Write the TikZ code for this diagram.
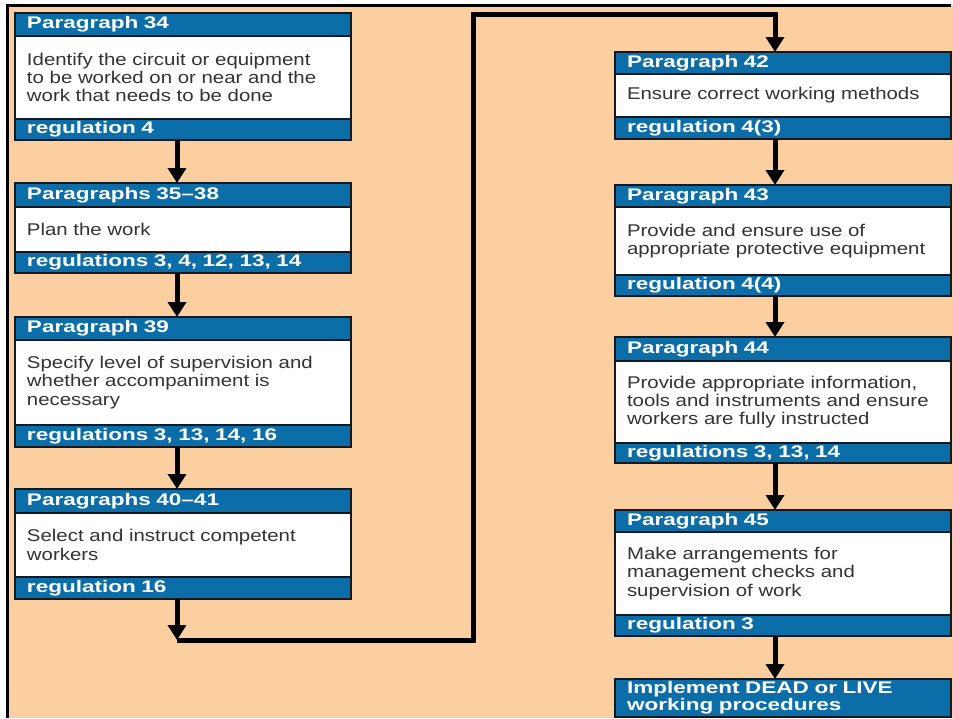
\documentclass[tikz,border=0pt]{standalone}
\usepackage{fontspec}
\setmainfont{Liberation Sans}
\newfontfamily\hdfont[FakeStretch=1.34]{Liberation Sans}
\newfontfamily\bdfont[FakeStretch=1.2]{Liberation Sans}
\usetikzlibrary{arrows.meta,fit}
\definecolor{peach}{HTML}{FCCFA0}
\definecolor{hblue}{HTML}{0C6EA8}
\definecolor{bodytext}{HTML}{333333}
\definecolor{edge}{HTML}{151820}
\tikzset{
  part/.style={rectangle, inner xsep=12pt, inner ysep=0pt, outer sep=0pt,
    text width=312pt, align=left, minimum width=336pt},
  hdr/.style={part, fill=hblue, text=white,
    font=\hdfont\bfseries\fontsize{16.8}{17}\selectfont},
  bdy/.style={part, fill=white, text=bodytext,
    font=\bdfont\fontsize{17}{18.3}\selectfont},
  sepline/.style={draw=edge, line width=1.4pt},
  outerframe/.style={draw=edge, line width=2.6pt, inner sep=0pt, outer sep=0pt},
  conn/.style={draw=black, line width=5pt, line join=miter},
  arr/.style={conn, -{Triangle[width=18pt,length=15pt]}},
}
% name, x, ytop, header h, body h, footer h, header, body, footer
\newcommand{\flowbox}[9]{%
  \node[hdr, minimum height=#4pt, anchor=north west] (#1-h) at (#2,#3) {#7};
  \node[bdy, minimum height=#5pt, anchor=north west] (#1-b) at (#1-h.south west) {#8};
  \node[hdr, minimum height=#6pt, anchor=north west] (#1-f) at (#1-b.south west) {#9};
  \draw[sepline] (#1-h.south west) -- (#1-h.south east);
  \draw[sepline] (#1-f.north west) -- (#1-f.north east);
  \node[outerframe, fit=(#1-h)(#1-f)] (#1) {};
}
\begin{document}
\begin{tikzpicture}[x=1pt,y=-1pt]
\useasboundingbox (0,0) rectangle (953,718);
\fill[white] (0,0) rectangle (953,718);
\fill[peach] (7,5) rectangle (953,718);
\draw[black, line width=3pt] (7.5,718) -- (7.5,5) -- (951,5);

\flowbox{b34}{15}{13}{23}{83}{21}{Paragraph 34}{Identify the circuit or equipment\\to be worked on or near and the\\work that needs to be done}{regulation 4}
\flowbox{b35}{15}{183}{24}{45}{21}{Paragraphs 35\textendash 38}{Plan the work}{regulations 3, 4, 12, 13, 14}
\flowbox{b39}{15}{317}{23}{85}{22}{Paragraph 39}{Specify level of supervision and\\whether accompaniment is\\necessary}{regulations 3, 13, 14, 16}
\flowbox{b40}{15}{489}{24}{64}{22}{Paragraphs 40\textendash 41}{Select and instruct competent\\workers}{regulation 16}

\flowbox{b42}{615}{52}{22}{43}{22}{Paragraph 42}{Ensure correct working methods}{regulation 4(3)}
\flowbox{b43}{615}{185}{22}{68}{21}{Paragraph 43}{Provide and ensure use of\\appropriate protective equipment}{regulation 4(4)}
\flowbox{b44}{615}{337}{24}{82}{20}{Paragraph 44}{Provide appropriate information,\\tools and instruments and ensure\\workers are fully instructed}{regulations 3, 13, 14}
\flowbox{b45}{615}{510}{22}{83}{21}{Paragraph 45}{Make arrangements for\\management checks and\\supervision of work}{regulation 3}

\node[hdr, minimum height=38pt, anchor=north west,
      font=\hdfont\bfseries\fontsize{16.8}{13.5}\selectfont] (fin-in) at (615,679)
      {Implement DEAD or LIVE\\working procedures};
\node[outerframe, fit=(fin-in)] (fin) {};

\draw[arr] ([xshift=-6pt]b34.south) -- ([xshift=-6pt]b35.north);
\draw[arr] ([xshift=-6pt]b35.south) -- ([xshift=-6pt]b39.north);
\draw[arr] ([xshift=-6pt]b39.south) -- ([xshift=-6pt]b40.north);
\coordinate (c1) at ([xshift=-6pt]b40.south |- 0,640);
\coordinate (c2) at (473,14);
\draw[arr] ([xshift=-6pt]b40.south) -- (c1);
\draw[arr] (c1) -| (c2) -| ([xshift=-8pt]b42.north);
\draw[arr] ([xshift=-8pt]b42.south) -- ([xshift=-8pt]b43.north);
\draw[arr] ([xshift=-8pt]b43.south) -- ([xshift=-8pt]b44.north);
\draw[arr] ([xshift=-8pt]b44.south) -- ([xshift=-8pt]b45.north);
\draw[arr] ([xshift=-8pt]b45.south) -- ([xshift=-8pt]fin.north);
\end{tikzpicture}
\end{document}
